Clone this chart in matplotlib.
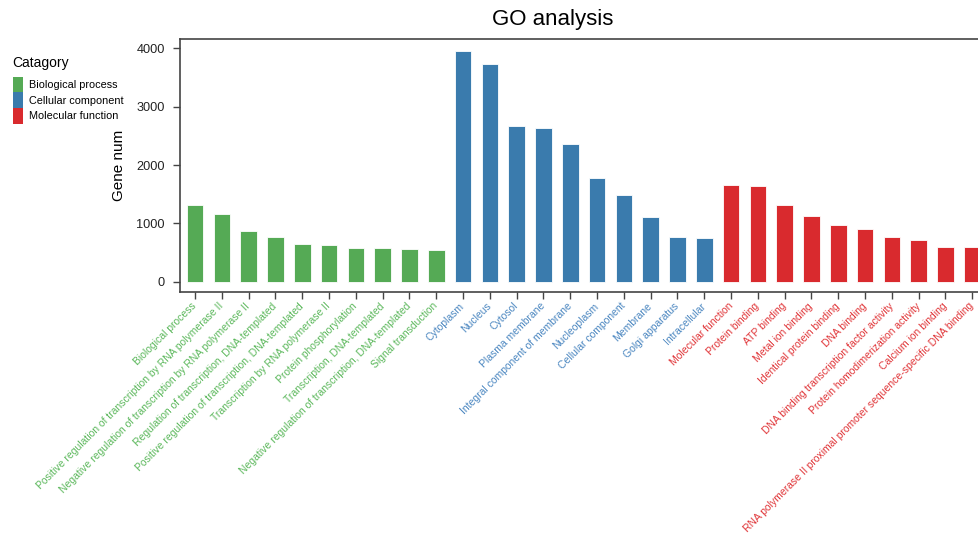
import matplotlib.pyplot as plt
from matplotlib.patches import Patch

plt.rcParams["font.family"] = ["Liberation Sans", "DejaVu Sans"]

bp_terms = [
    "Biological process",
    "Positive regulation of transcription by RNA polymerase II",
    "Negative regulation of transcription by RNA polymerase II",
    "Regulation of transcription, DNA-templated",
    "Positive regulation of transcription, DNA-templated",
    "Transcription by RNA polymerase II",
    "Protein phosphorylation",
    "Transcription, DNA-templated",
    "Negative regulation of transcription, DNA-templated",
    "Signal transduction",
]
bp_counts = [1309, 1166, 863, 760, 646, 629, 583, 571, 566, 543]

cc_terms = [
    "Cytoplasm",
    "Nucleus",
    "Cytosol",
    "Plasma membrane",
    "Integral component of membrane",
    "Nucleoplasm",
    "Cellular component",
    "Membrane",
    "Golgi apparatus",
    "Intracellular",
]
cc_counts = [3960, 3726, 2674, 2629, 2366, 1777, 1480, 1109, 760, 743]

mf_terms = [
    "Molecular function",
    "Protein binding",
    "ATP binding",
    "Metal ion binding",
    "Identical protein binding",
    "DNA binding",
    "DNA binding transcription factor activity",
    "Protein homodimerization activity",
    "Calcium ion binding",
    "RNA polymerase II proximal promoter sequence-specific DNA binding",
]
mf_counts = [1662, 1634, 1309, 1126, 972, 897, 760, 714, 600, 589]

groups = ["Biological process", "Cellular component", "Molecular function"]
group_colors = ["#55aa55", "#3a7bad", "#d92a2e"]
label_colors = ["#5cb85c", "#4a86c0", "#e03538"]

terms = bp_terms + cc_terms + mf_terms
counts = bp_counts + cc_counts + mf_counts
sizes = [len(bp_terms), len(cc_terms), len(mf_terms)]
bar_colors = []
tick_colors = []
for n, c, lc in zip(sizes, group_colors, label_colors):
    bar_colors += [c] * n
    tick_colors += [lc] * n

fig = plt.figure(figsize=(9.79, 5.36), dpi=100)
ax = fig.add_axes([180 / 979, 1 - 292 / 536, 1 - 180 / 979, (292 - 39) / 536])

x = list(range(len(terms)))
ax.bar(x, counts, width=0.62, color=bar_colors, edgecolor="#ffffff", linewidth=0.6)

ax.set_xlim(-0.56, 29.25)
ax.set_ylim(-177, 4160)
ax.set_yticks([0, 1000, 2000, 3000, 4000])
ax.set_xticks(x)
ax.set_xticklabels(terms, rotation=45, ha="right", va="center",
                   rotation_mode="anchor", fontsize=7.5)
for lab, col in zip(ax.get_xticklabels(), tick_colors):
    lab.set_color(col)

for side in ["left", "bottom", "top"]:
    ax.spines[side].set_color("#444444")
    ax.spines[side].set_linewidth(1.2)
ax.spines["right"].set_visible(False)
ax.tick_params(axis="both", direction="out", length=5, width=1, color="#444444")
ax.tick_params(axis="y", labelsize=9.2, labelcolor="#222222", pad=6)
ax.tick_params(axis="x", pad=4)
ax.set_ylabel("Gene num", fontsize=11, labelpad=7)

fig.text(553 / 979, 1 - 19 / 536, "GO analysis", fontsize=16, ha="center", va="center")

# legend: title placed by hand, entries as stacked squares
fig.text(12 / 979, 1 - 63 / 536, "Catagory", fontsize=10, ha="left", va="center")
handles = [Patch(facecolor=c, edgecolor="none") for c in group_colors]
leg = fig.legend(handles, groups, loc="upper left",
                 bbox_to_anchor=(4 / 979, 1 - 68 / 536), frameon=False,
                 fontsize=7.8, handlelength=0.95, handleheight=1.85,
                 labelspacing=0.0, handletextpad=0.6, borderpad=0.3)

fig.savefig("out.png", dpi=100)
